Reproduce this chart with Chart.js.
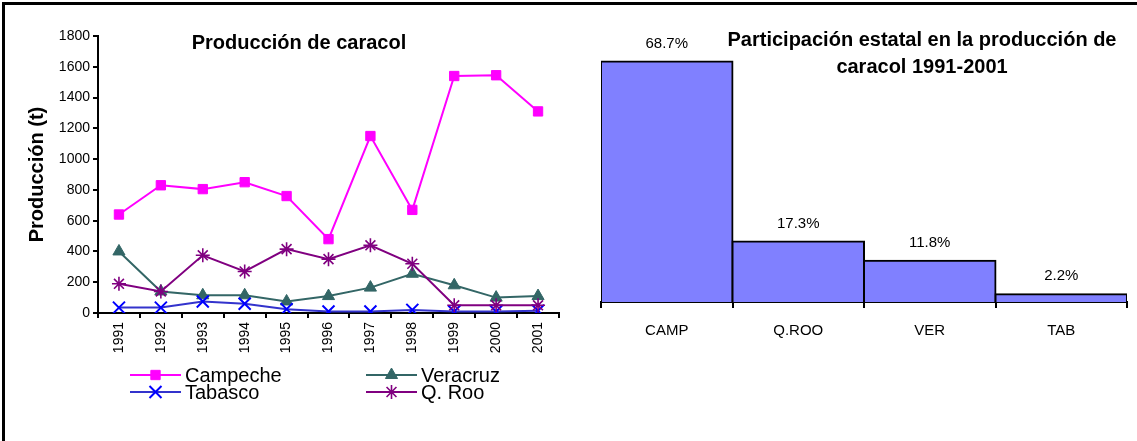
<!DOCTYPE html>
<html><head><meta charset="utf-8">
<script src="https://cdn.jsdelivr.net/npm/chart.js@4"></script>
<style>
html,body{margin:0;padding:0;background:#fff;width:1137px;height:441px;overflow:hidden;position:relative;}
#frame{position:absolute;left:2px;top:2px;width:1140px;height:445px;border-top:3px solid #000;border-left:3px solid #000;}
#c1{position:absolute;left:0;top:0;width:580px;height:441px;}
#c2{position:absolute;left:580px;top:0;width:557px;height:441px;}
</style></head><body>
<div id="frame"></div>
<canvas id="c1" width="580" height="441"></canvas>
<canvas id="c2" width="557" height="441"></canvas>
<script>
// ---- data ----
const years = ['1991','1992','1993','1994','1995','1996','1997','1998','1999','2000','2001'];
const campeche = [640, 830, 805, 850, 760, 480, 1150, 670, 1540, 1545, 1310];
const veracruz = [400, 140, 115, 115, 75, 110, 165, 255, 180, 100, 110];
const tabasco  = [35, 35, 75, 60, 25, 10, 10, 20, 10, 10, 15];
const qroo     = [190, 140, 375, 270, 415, 350, 440, 320, 50, 50, 50];
const seriesNames = ['Campeche', 'Veracruz', 'Tabasco', 'Q. Roo'];
const states = ['CAMP', 'Q.ROO', 'VER', 'TAB'];
const shares = [68.7, 17.3, 11.8, 2.2];
const leftTitle = 'Producción de caracol';
const rightTitle = ['Participación estatal en la producción de', 'caracol 1991-2001'];

const FONT = "Arial, 'Liberation Sans', Helvetica, sans-serif";
Chart.defaults.color = '#000';
Chart.defaults.font.family = FONT;

function ds(label, data, line, point, style, radius, bw, order) {
  return {label, data, borderColor: line, backgroundColor: point, pointBackgroundColor: point,
    pointBorderColor: point, pointStyle: style, pointRadius: radius, pointBorderWidth: bw,
    borderWidth: 2, tension: 0, order};
}

const leftPlugin = {
  id: 'leftDecor',
  afterDraw(chart) {
    const ctx = chart.ctx;
    ctx.save();
    ctx.fillStyle = '#000';
    ctx.font = 'bold 20px ' + FONT;
    ctx.textAlign = 'center';
    ctx.textBaseline = 'middle';
    ctx.fillText(leftTitle, 299, 43);
    // legend
    const cols = [130, 366], rows = [375, 392], len = 51;
    chart.data.datasets.forEach((d, i) => {
      const x = cols[i % 2], y = rows[Math.floor(i / 2)];
      ctx.strokeStyle = d.borderColor;
      ctx.lineWidth = 2;
      ctx.beginPath(); ctx.moveTo(x, y); ctx.lineTo(x + len, y); ctx.stroke();
      ctx.fillStyle = d.pointBackgroundColor;
      ctx.strokeStyle = d.pointBorderColor;
      ctx.lineWidth = d.pointBorderWidth;
      Chart.helpers.drawPoint(ctx, {pointStyle: d.pointStyle, radius: d.pointRadius, rotation: 0, borderWidth: d.pointBorderWidth}, x + len / 2, y);
      ctx.fillStyle = '#000';
      ctx.font = '20px ' + FONT;
      ctx.textAlign = 'left';
      ctx.fillText(d.label, x + len + 4, y + 1);
    });
    ctx.restore();
  }
};

new Chart(document.getElementById('c1'), {
  type: 'line',
  data: {
    labels: years,
    datasets: [
      ds(seriesNames[0], campeche, '#FF00FF', '#FF00FF', 'rect', 6.6, 1, 4),
      ds(seriesNames[1], veracruz, '#336666', '#336666', 'triangle', 7, 1, 3),
      ds(seriesNames[2], tabasco, '#3333CC', '#0000FF', 'crossRot', 8.5, 2, 2),
      ds(seriesNames[3], qroo, '#800080', '#800080', 'star', 7, 1.6, 1)
    ]
  },
  options: {
    responsive: false, animation: false, devicePixelRatio: 1,
    layout: {padding: {left: 0, right: 21, top: 36, bottom: 78}},
    plugins: {legend: {display: false}, tooltip: {enabled: false}},
    scales: {
      x: {
        offset: true,
        grid: {offset: true, drawOnChartArea: false, color: '#000', lineWidth: 2, tickLength: 5},
        border: {color: '#000', width: 2},
        ticks: {color: '#000', font: {family: FONT, size: 14}, minRotation: 90, maxRotation: 90, autoSkip: false, padding: 4},
        afterFit(s) { s.height = 50; }
      },
      y: {
        min: 0, max: 1800,
        ticks: {stepSize: 200, color: '#000', font: {family: FONT, size: 14}, padding: 3, callback: v => String(v)},
        grid: {drawOnChartArea: false, color: '#000', lineWidth: 2, tickLength: 5},
        border: {color: '#000', width: 2},
        title: {display: true, text: 'Producción (t)', color: '#000', font: {family: FONT, size: 20, weight: 'bold'}, padding: {top: 25, bottom: 0}},
        afterFit(s) { s.width = 98; }
      }
    }
  },
  plugins: [leftPlugin]
});

const rightPlugin = {
  id: 'rightDecor',
  afterDatasetsDraw(chart) {
    const ctx = chart.ctx;
    ctx.save();
    ctx.fillStyle = '#000';
    ctx.font = '15px ' + FONT;
    ctx.textAlign = 'center';
    ctx.textBaseline = 'middle';
    const meta = chart.getDatasetMeta(0);
    meta.data.forEach((el, i) => {
      ctx.fillText(chart.data.datasets[0].data[i].toFixed(1) + '%', el.x, el.y - 18);
    });
    ctx.restore();
  },
  afterDraw(chart) {
    const ctx = chart.ctx;
    ctx.save();
    ctx.fillStyle = '#000';
    ctx.font = 'bold 20px ' + FONT;
    ctx.textAlign = 'center';
    ctx.textBaseline = 'middle';
    ctx.fillText(rightTitle[0], 342, 40);
    ctx.fillText(rightTitle[1], 342, 67);
    ctx.restore();
  }
};

new Chart(document.getElementById('c2'), {
  type: 'bar',
  data: {
    labels: states,
    datasets: [{data: shares, backgroundColor: '#8080FF', borderColor: '#000', borderWidth: 2,
      inflateAmount: 1, barPercentage: 1, categoryPercentage: 1}]
  },
  options: {
    responsive: false, animation: false, devicePixelRatio: 1,
    layout: {padding: {left: 21, right: 10, top: 57, bottom: 79}},
    plugins: {legend: {display: false}, tooltip: {enabled: false}},
    scales: {
      x: {
        grid: {offset: true, drawOnChartArea: false, color: '#000', lineWidth: 2, tickLength: 6},
        border: {color: '#000', width: 2},
        ticks: {color: '#000', font: {family: FONT, size: 15}, padding: 14},
        afterFit(s) { s.height = 60; }
      },
      y: {display: false, min: 0, max: 70}
    }
  },
  plugins: [rightPlugin]
});
</script>
</body></html>
